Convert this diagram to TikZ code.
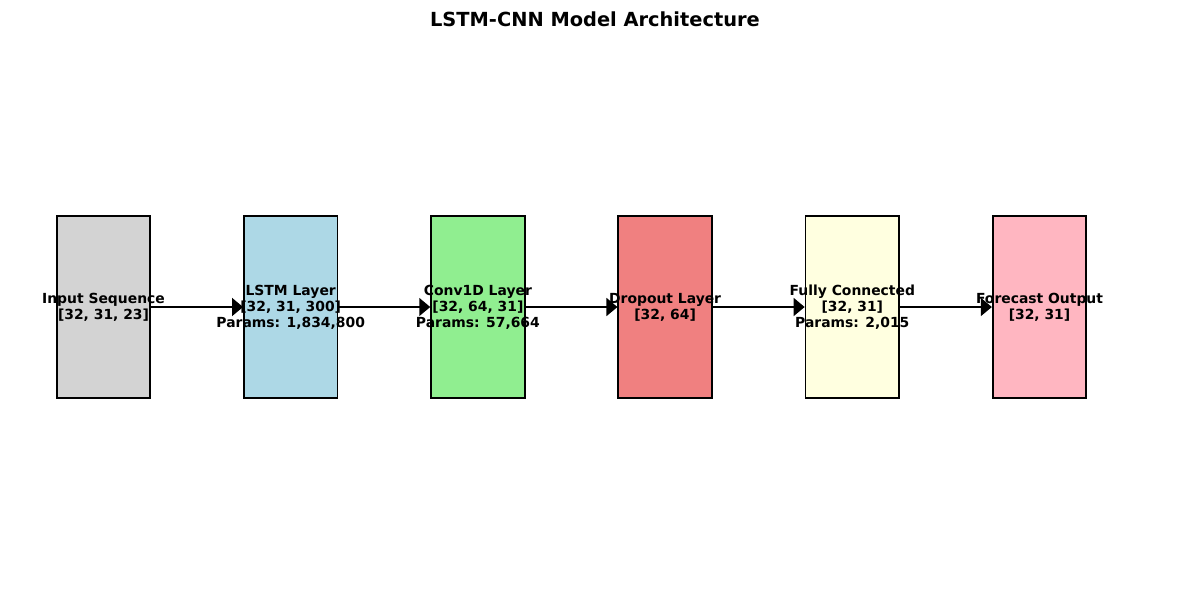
\documentclass[tikz,border=0pt]{standalone}
\usepackage{fontspec}
\setmainfont{DejaVu Sans}
\usetikzlibrary{arrows.meta, positioning}

\definecolor{inputgray}{HTML}{D3D3D3}
\definecolor{lstmblue}{HTML}{ADD8E6}
\definecolor{convgreen}{HTML}{90EE90}
\definecolor{dropcoral}{HTML}{F08080}
\definecolor{fcyellow}{HTML}{FFFFE0}
\definecolor{outpink}{HTML}{FFB6C1}

\tikzset{
  layerbox/.style={draw, line width=1.8pt, minimum width=93.5pt, minimum height=182pt, inner sep=0pt},
  layertext/.style={font=\fontsize{13.9}{16}\selectfont\bfseries, align=center, inner sep=0pt},
  flow/.style={-{Triangle[length=11pt, width=18pt]}, line width=1.5pt}
}

\begin{document}
\begin{tikzpicture}[x=1pt, y=-1pt]
	\useasboundingbox (0,0) rectangle (1189,590);
	\node[font=\fontsize{19.4}{23}\selectfont\bfseries] (title) at (595,19) {LSTM-CNN Model Architecture};

	\draw (103.5,307) node[layerbox, fill=inputgray] (inp){}
		(290.7,307) node[layerbox, fill=lstmblue] (lstm){}
		(477.9,307) node[layerbox, fill=convgreen] (conv){}
		(665.1,307) node[layerbox, fill=dropcoral] (drop){}
		(852.3,307) node[layerbox, fill=fcyellow] (fc){}
		(1039.5,307) node[layerbox, fill=outpink] (out){};

	\node[layertext] (inptext) at (inp) {Input Sequence\\{}[32, 31, 23]};
	\node[layertext] (lstmtext) at (lstm) {LSTM Layer\\{}[32, 31, 300]\\Params: 1,834,800};
	\node[layertext] (convtext) at (conv) {Conv1D Layer\\{}[32, 64, 31]\\Params: 57,664};
	\node[layertext] (droptext) at (drop) {Dropout Layer\\{}[32, 64]};
	\node[layertext] (fctext) at (fc) {Fully Connected\\{}[32, 31]\\Params: 2,015};
	\node[layertext] (outtext) at (out) {Forecast Output\\{}[32, 31]};

	\draw[flow] (inp) -- (lstm);
	\draw[flow] (lstm) -- (conv);
	\draw[flow] (conv) -- (drop);
	\draw[flow] (drop) -- (fc);
	\draw[flow] (fc) -- (out);
\end{tikzpicture}
\end{document}
